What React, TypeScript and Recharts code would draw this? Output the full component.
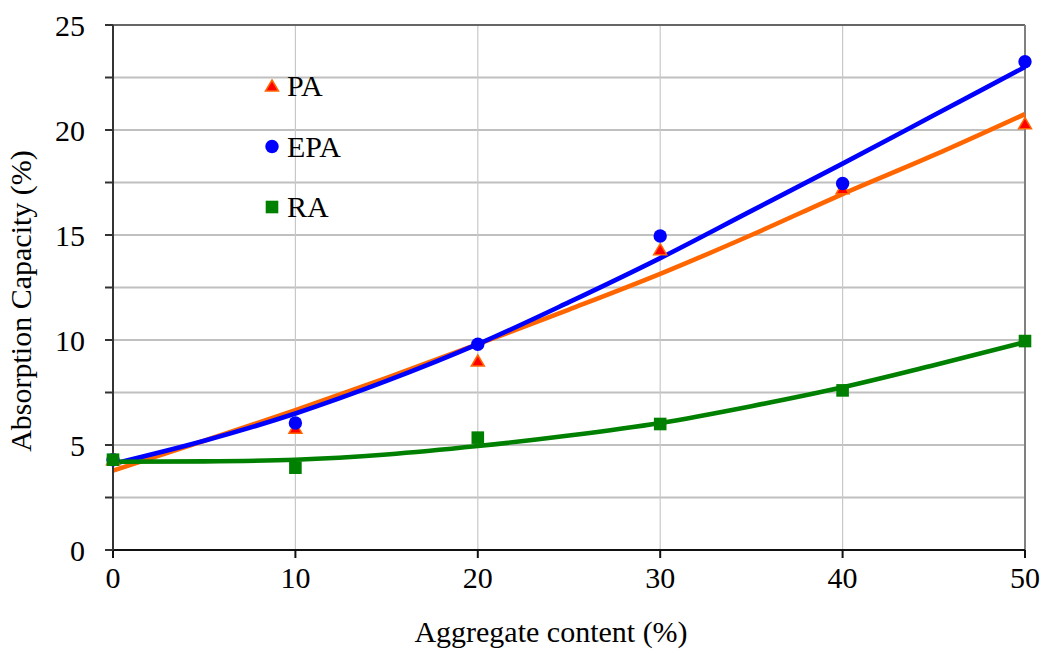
import React from "react";
import {
  ComposedChart,
  Line,
  Scatter,
  XAxis,
  YAxis,
  CartesianGrid,
  ReferenceLine,
  Label,
  Customized,
} from "recharts";

// ---------------------------------------------------------------------------
// Measured absorption capacity (%) vs aggregate content (%)
// ---------------------------------------------------------------------------

const contentLevels = [0, 10, 20, 30, 40, 50];
const paMeasured = [4.3, 5.8, 9.0, 14.3, 17.2, 20.3];
const epaMeasured = [4.3, 6.05, 9.8, 14.95, 17.45, 23.25];
const raMeasured = [4.3, 3.92, 5.35, 6.0, 7.6, 9.95];

// Trend curves, read every 5 % of aggregate content
const trendLevels = [0, 5, 10, 15, 20, 25, 30, 35, 40, 45, 50];
const paTrend = [3.78, 5.2, 6.66, 8.2, 9.8, 11.45, 13.15, 15.0, 16.95, 18.8, 20.76];
const epaTrend = [4.1, 5.2, 6.5, 8.05, 9.8, 11.8, 13.9, 16.15, 18.4, 20.7, 23.0];
const raTrend = [4.2, 4.22, 4.3, 4.55, 4.95, 5.45, 6.05, 6.85, 7.75, 8.8, 9.9];

const xTicks = [0, 10, 20, 30, 40, 50];
const yTicks = [0, 2.5, 5, 7.5, 10, 12.5, 15, 17.5, 20, 22.5, 25];

const FONT = '"Times New Roman", "Liberation Serif", serif';
const ORANGE = "#ff6600";
const BLUE = "#0000ff";
const GREEN = "#008000";

const toPoints = (xs: number[], ys: number[]) => xs.map((x, i) => ({ x, y: ys[i] }));

// ---------------------------------------------------------------------------
// Marker shapes
// ---------------------------------------------------------------------------

function TriangleMark({ cx, cy }: { cx?: number; cy?: number }) {
  if (cx == null || cy == null) return null;
  return (
    <polygon
      points={`${cx},${cy - 6} ${cx + 6.5},${cy + 5} ${cx - 6.5},${cy + 5}`}
      fill="#ff0000"
      stroke={ORANGE}
      strokeWidth={1.5}
      strokeLinejoin="miter"
    />
  );
}

function CircleMark({ cx, cy }: { cx?: number; cy?: number }) {
  if (cx == null || cy == null) return null;
  return <circle cx={cx} cy={cy} r={6.7} fill={BLUE} />;
}

function SquareMark({ cx, cy }: { cx?: number; cy?: number }) {
  if (cx == null || cy == null) return null;
  return <rect x={cx - 6.3} y={cy - 6.3} width={12.6} height={12.6} fill={GREEN} />;
}

const seriesKey = [
  { name: "PA", Mark: TriangleMark },
  { name: "EPA", Mark: CircleMark },
  { name: "RA", Mark: SquareMark },
];

// In-plot key, stacked under one another
function SeriesKey() {
  return (
    <g>
      {seriesKey.map(({ name, Mark }, i) => {
        const cy = 86 + i * 60.5;
        return (
          <g key={name}>
            <Mark cx={272} cy={cy} />
            <text x={287} y={cy + 10} fontFamily={FONT} fontSize={30} fill="#000">
              {name}
            </text>
          </g>
        );
      })}
    </g>
  );
}

export default function App() {
  return (
    <div style={{ position: "absolute", left: 0, top: 0 }}>
      <ComposedChart
        width={1047}
        height={654}
        margin={{ top: 25, right: 22, bottom: 0, left: 0 }}
      >
        <CartesianGrid
          horizontal
          vertical={false}
          stroke="#c0c0c0"
          strokeWidth={2}
        />
        <CartesianGrid
          horizontal={false}
          vertical
          stroke="#c8c8c8"
          strokeWidth={1.2}
        />
        <XAxis
          type="number"
          dataKey="x"
          domain={[0, 50]}
          ticks={xTicks}
          height={104}
          tickSize={8}
          tickMargin={9}
          axisLine={{ stroke: "#111", strokeWidth: 2 }}
          tickLine={{ stroke: "#111", strokeWidth: 2 }}
          tick={{ fill: "#000", fontSize: 30, fontFamily: FONT }}
        >
          <Label
            content={() => (
              <text
                x={551}
                y={642}
                textAnchor="middle"
                fontFamily={FONT}
                fontSize={30}
                fill="#000"
              >
                Aggregate content (%)
              </text>
            )}
          />
        </XAxis>
        <YAxis
          type="number"
          domain={[0, 25]}
          ticks={yTicks}
          width={113}
          tickSize={8}
          tickMargin={20}
          tickFormatter={(v: number) => (v % 5 === 0 ? String(v) : "")}
          axisLine={{ stroke: "#333", strokeWidth: 2 }}
          tickLine={{ stroke: "#333", strokeWidth: 2 }}
          tick={{ fill: "#000", fontSize: 30, fontFamily: FONT }}
        >
          <Label
            content={() => (
              <text
                transform="translate(31,301) rotate(-90)"
                textAnchor="middle"
                fontFamily={FONT}
                fontSize={30}
                fill="#000"
              >
                Absorption Capacity (%)
              </text>
            )}
          />
        </YAxis>

        {/* plot-area frame on the top and right */}
        <ReferenceLine y={25} stroke="#666" strokeWidth={2} />
        <ReferenceLine x={50} stroke="#808080" strokeWidth={2} />

        <Line
          data={toPoints(trendLevels, paTrend)}
          dataKey="y"
          type="monotone"
          stroke={ORANGE}
          strokeWidth={4.6}
          dot={false}
          activeDot={false}
          isAnimationActive={false}
        />
        <Line
          data={toPoints(trendLevels, epaTrend)}
          dataKey="y"
          type="monotone"
          stroke={BLUE}
          strokeWidth={4.6}
          dot={false}
          activeDot={false}
          isAnimationActive={false}
        />
        <Line
          data={toPoints(trendLevels, raTrend)}
          dataKey="y"
          type="monotone"
          stroke={GREEN}
          strokeWidth={4.6}
          dot={false}
          activeDot={false}
          isAnimationActive={false}
        />

        <Scatter
          data={toPoints(contentLevels, paMeasured)}
          dataKey="y"
          shape={(p: any) => <TriangleMark cx={p.cx} cy={p.cy} />}
          isAnimationActive={false}
        />
        <Scatter
          data={toPoints(contentLevels, epaMeasured)}
          dataKey="y"
          shape={(p: any) => <CircleMark cx={p.cx} cy={p.cy} />}
          isAnimationActive={false}
        />
        <Scatter
          data={toPoints(contentLevels, raMeasured)}
          dataKey="y"
          shape={(p: any) => <SquareMark cx={p.cx} cy={p.cy} />}
          isAnimationActive={false}
        />

        <Customized component={<SeriesKey />} />
      </ComposedChart>
    </div>
  );
}
